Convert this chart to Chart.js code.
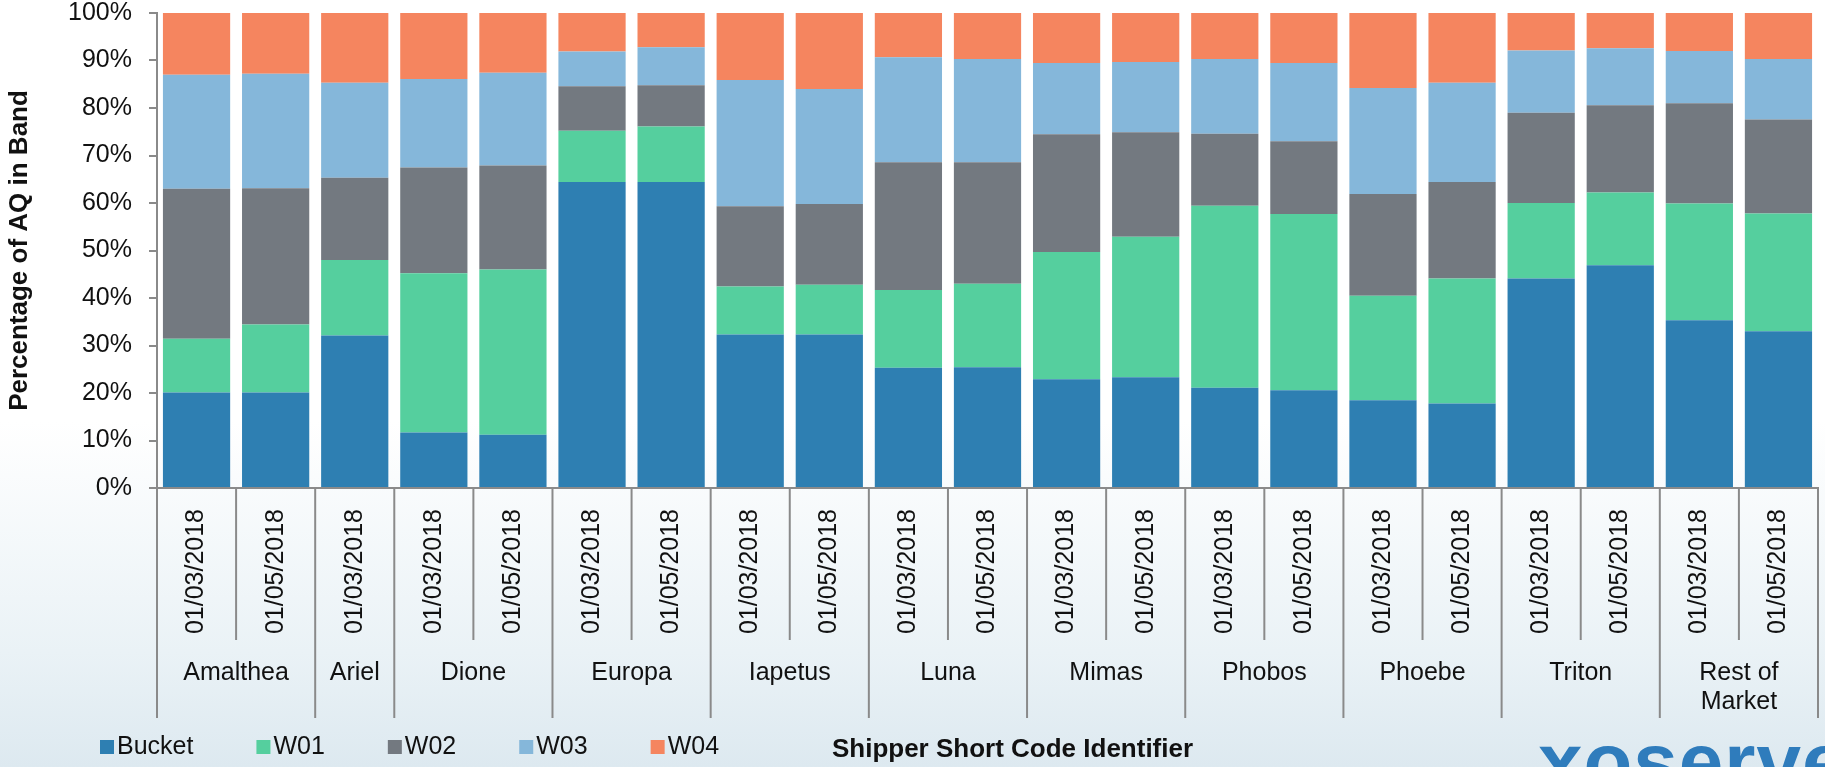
<!DOCTYPE html>
<html>
<head>
<meta charset="utf-8">
<title>Percentage of AQ in Band</title>
<script src="https://cdn.jsdelivr.net/npm/chart.js@4.4.1/dist/chart.umd.min.js"></script>
<style>
    html, body { margin: 0; padding: 0; overflow: hidden; }
    body {
        width: 1825px; height: 767px; position: relative;
        background: linear-gradient(to bottom, #ffffff 0%, #ffffff 55%, #eaf2f6 85%, #dde9f0 100%);
    }
    #wrap { position: absolute; left: 0; top: 0; width: 1825px; height: 767px; }
    #logo {
        position: absolute; left: 1538px; top: 722px;
        font: bold 80px "Liberation Sans", Arial, sans-serif; line-height: 80px;
        color: #2f7cbc; letter-spacing: 1px;
    }
</style>
</head>
<body>
<div id="logo">xoserve</div>
<div id="wrap"><canvas id="aq_chart"></canvas></div>
<script>
var dates = ['01/03/2018', '01/05/2018', '01/03/2018', '01/03/2018', '01/05/2018', '01/03/2018', '01/05/2018',
    '01/03/2018', '01/05/2018', '01/03/2018', '01/05/2018', '01/03/2018', '01/05/2018', '01/03/2018', '01/05/2018',
    '01/03/2018', '01/05/2018', '01/03/2018', '01/05/2018', '01/03/2018', '01/05/2018'];
var shippers = ['Amalthea', 'Amalthea', 'Ariel', 'Dione', 'Dione', 'Europa', 'Europa', 'Iapetus', 'Iapetus',
    'Luna', 'Luna', 'Mimas', 'Mimas', 'Phobos', 'Phobos', 'Phoebe', 'Phoebe', 'Triton', 'Triton',
    'Rest of Market', 'Rest of Market'];

// share of AQ per band, in %
var bucketData = [20.1, 20.1, 32.1, 11.7, 11.2, 64.4, 64.4, 32.3, 32.3, 25.3, 25.4, 22.9, 23.3, 21.1, 20.6, 18.5, 17.8, 44.1, 46.9, 35.3, 33.0];
var w01Data = [11.3, 14.3, 15.9, 33.5, 34.8, 10.8, 11.7, 10.1, 10.5, 16.4, 17.6, 26.8, 29.6, 38.3, 37.1, 22.0, 26.3, 15.9, 15.3, 24.6, 24.8];
var w02Data = [31.6, 28.7, 17.3, 22.3, 21.9, 9.4, 8.7, 16.9, 17.0, 26.9, 25.6, 24.8, 22.0, 15.2, 15.3, 21.4, 20.3, 19.0, 18.4, 21.1, 19.8];
var w03Data = [24.0, 24.1, 20.0, 18.6, 19.5, 7.3, 8.0, 26.6, 24.2, 22.1, 21.7, 15.0, 14.8, 15.7, 16.5, 22.3, 20.9, 13.1, 12.0, 11.0, 12.7];
var w04Data = [13.0, 12.8, 14.7, 13.9, 12.6, 8.1, 7.2, 14.1, 16.0, 9.3, 9.7, 10.5, 10.3, 9.7, 10.5, 15.8, 14.7, 7.9, 7.4, 8.0, 9.7];

var bandNames = ['Bucket', 'W01', 'W02', 'W03', 'W04'];
var bandColors = ['#2e7fb2', '#55cf9e', '#737980', '#85b7da', '#f5855f'];

var textFont = '"Liberation Sans", Arial, sans-serif';
var axisGrey = '#8a8a8a';

Chart.defaults.font.family = textFont;
Chart.defaults.color = '#111111';

function wrapWords(ctx, text, maxWidth) {
    var words = text.split(' ');
    var lines = [];
    var line = '';
    words.forEach(function (w) {
        var test = line ? line + ' ' + w : w;
        if (line && ctx.measureText(test).width > maxWidth) {
            lines.push(line);
            line = w;
        } else {
            line = test;
        }
    });
    lines.push(line);
    return lines;
}

// shipper groups, separators, legend and x title below the axis
var axisDecor = {
    id: 'axisDecor',
    afterDraw: function (chart) {
        var ctx = chart.ctx;
        var xs = chart.scales.x;
        var area = chart.chartArea;
        var n = chart.data.labels.length;
        var edges = [];
        for (var i = 0; i <= n; i++) {
            if (i === 0) edges.push(area.left);
            else if (i === n) edges.push(area.right);
            else edges.push((xs.getPixelForValue(i - 1) + xs.getPixelForValue(i)) / 2);
        }

        ctx.save();
        ctx.strokeStyle = axisGrey;
        ctx.lineWidth = 2;
        for (var j = 0; j <= n; j++) {
            var groupEdge = j === 0 || j === n || shippers[j] !== shippers[j - 1];
            ctx.beginPath();
            ctx.moveTo(edges[j], area.bottom);
            ctx.lineTo(edges[j], area.bottom + (groupEdge ? 230 : 152));
            ctx.stroke();
        }

        ctx.fillStyle = '#111111';
        ctx.font = '25px ' + textFont;
        ctx.textAlign = 'center';
        ctx.textBaseline = 'middle';
        var start = 0;
        for (var k = 1; k <= n; k++) {
            if (k === n || shippers[k] !== shippers[start]) {
                var cx = (edges[start] + edges[k]) / 2;
                var lines = wrapWords(ctx, shippers[start], edges[k] - edges[start] - 10);
                lines.forEach(function (line, li) {
                    ctx.fillText(line, cx, area.bottom + 185 + li * 29);
                });
                start = k;
            }
        }

        // legend
        var lx = 100;
        var ly = 747;
        ctx.textAlign = 'left';
        chart.data.datasets.forEach(function (ds) {
            ctx.fillStyle = ds.backgroundColor;
            ctx.fillRect(lx, ly - 7, 14, 14);
            ctx.fillStyle = '#111111';
            ctx.fillText(ds.label, lx + 17, ly);
            lx += 17 + ctx.measureText(ds.label).width + 63;
        });

        // x axis title
        ctx.textAlign = 'center';
        ctx.font = 'bold 26px ' + textFont;
        ctx.fillText('Shipper Short Code Identifier', (area.left + area.right) / 2 + 25, 750);
        ctx.restore();
    }
};

var seriesData = [bucketData, w01Data, w02Data, w03Data, w04Data];
var datasets = bandNames.map(function (name, i) {
    return {
        label: name,
        data: seriesData[i],
        backgroundColor: bandColors[i],
        borderWidth: 0,
        categoryPercentage: 1.0,
        barPercentage: 0.85
    };
});

var aq_ctx = document.getElementById('aq_chart').getContext('2d');
var aq_chart = new Chart(aq_ctx, {
    type: 'bar',
    data: {
        labels: dates,
        datasets: datasets
    },
    options: {
        responsive: true,
        maintainAspectRatio: false,
        animation: false,
        devicePixelRatio: 1,
        layout: {
            padding: { left: 0, right: 7, top: 13, bottom: 0 }
        },
        plugins: {
            legend: { display: false },
            title: { display: false },
            tooltip: { enabled: false }
        },
        scales: {
            x: {
                stacked: true,
                grid: { display: false },
                border: { display: true, color: axisGrey, width: 2 },
                ticks: {
                    autoSkip: false,
                    minRotation: 90,
                    maxRotation: 90,
                    padding: 13,
                    color: '#111111',
                    font: { size: 25 }
                },
                afterFit: function (scale) {
                    scale.height = 279;
                }
            },
            y: {
                stacked: true,
                min: 0,
                max: 100,
                grid: {
                    display: true,
                    drawOnChartArea: false,
                    drawTicks: true,
                    tickLength: 8,
                    color: axisGrey,
                    lineWidth: 2
                },
                border: { display: true, color: axisGrey, width: 2 },
                ticks: {
                    stepSize: 10,
                    padding: 17,
                    color: '#111111',
                    font: { size: 25 },
                    callback: function (value) {
                        return value + '%';
                    }
                },
                title: {
                    display: true,
                    text: 'Percentage of AQ in Band',
                    color: '#111111',
                    font: { size: 26, weight: 'bold' },
                    padding: { top: 4, bottom: 0 }
                },
                afterFit: function (scale) {
                    scale.width = 157;
                    // the label padding would push the plot down; the ref plot starts near the top
                    scale.paddingTop = 0;
                    scale.paddingBottom = 0;
                }
            }
        }
    },
    plugins: [axisDecor]
});
</script>
</body>
</html>
